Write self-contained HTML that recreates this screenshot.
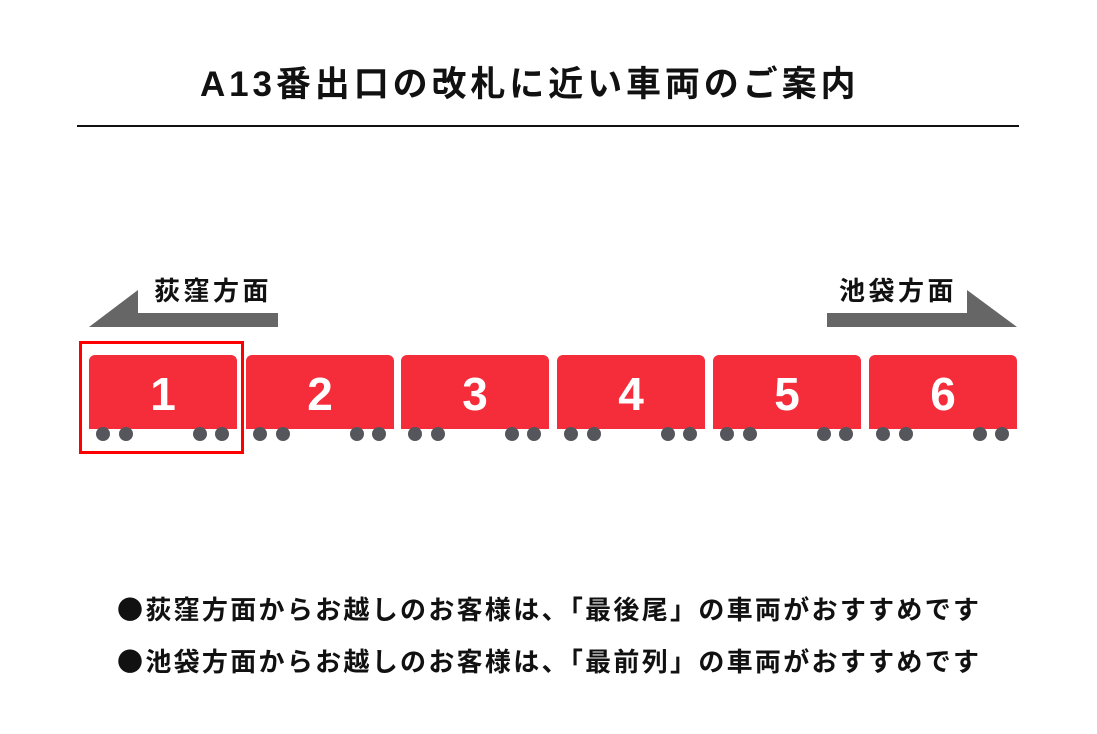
<!DOCTYPE html>
<html><head><meta charset="utf-8"><style>
body{margin:0;width:1097px;height:734px;background:#fff;position:relative;overflow:hidden;font-family:"Liberation Sans","Noto Sans CJK JP",sans-serif;color:#111}
.t{position:absolute;font-weight:bold;white-space:nowrap}
.b{font-family:"Noto Sans CJK JP",sans-serif}
</style></head><body>
<div class="t" style="left:200px;top:56px;font-size:35px;letter-spacing:3.9px">A13番出口の改札に近い車両のご案内</div>
<div style="position:absolute;left:77px;top:125px;width:942px;height:2px;background:#111"></div>
<div class="t" style="left:154px;top:271px;font-size:26px;letter-spacing:3.5px">荻窪方面</div>
<div class="t" style="left:839px;top:271px;font-size:26px;letter-spacing:3.5px">池袋方面</div>
<svg width="1097" height="734" style="position:absolute;left:0;top:0">
<polygon points="89,327 138,290 138,313 278,313 278,327" fill="#666"/>
<polygon points="827,313 967,313 967,290 1017,327 827,327" fill="#666"/>
<g fill="#f52c39">
<path d="M89,429V361a6,6 0 0 1 6-6H231a6,6 0 0 1 6,6V429Z"/>
<path d="M246,429V361a6,6 0 0 1 6-6H388a6,6 0 0 1 6,6V429Z"/>
<path d="M401,429V361a6,6 0 0 1 6-6H543a6,6 0 0 1 6,6V429Z"/>
<path d="M557,429V361a6,6 0 0 1 6-6H699a6,6 0 0 1 6,6V429Z"/>
<path d="M713,429V361a6,6 0 0 1 6-6H855a6,6 0 0 1 6,6V429Z"/>
<path d="M869,429V361a6,6 0 0 1 6-6H1011a6,6 0 0 1 6,6V429Z"/>
</g>
<g fill="#55555c">
<circle cx="103" cy="434" r="7"/><circle cx="126" cy="434" r="7"/><circle cx="200" cy="434" r="7"/><circle cx="222" cy="434" r="7"/>
<circle cx="260" cy="434" r="7"/><circle cx="283" cy="434" r="7"/><circle cx="357" cy="434" r="7"/><circle cx="379" cy="434" r="7"/>
<circle cx="415" cy="434" r="7"/><circle cx="438" cy="434" r="7"/><circle cx="512" cy="434" r="7"/><circle cx="534" cy="434" r="7"/>
<circle cx="571" cy="434" r="7"/><circle cx="594" cy="434" r="7"/><circle cx="668" cy="434" r="7"/><circle cx="690" cy="434" r="7"/>
<circle cx="727" cy="434" r="7"/><circle cx="750" cy="434" r="7"/><circle cx="824" cy="434" r="7"/><circle cx="846" cy="434" r="7"/>
<circle cx="883" cy="434" r="7"/><circle cx="906" cy="434" r="7"/><circle cx="980" cy="434" r="7"/><circle cx="1002" cy="434" r="7"/>
</g>
<g fill="#fff" font-family="Liberation Sans, sans-serif" font-weight="bold" font-size="46" text-anchor="middle">
<text x="163" y="410">1</text><text x="320" y="410">2</text><text x="475" y="410">3</text>
<text x="631" y="410">4</text><text x="787" y="410">5</text><text x="943" y="410">6</text>
</g>
<rect x="80.5" y="342.5" width="162" height="110" fill="none" stroke="#f00" stroke-width="3"/>
</svg>
<div class="t" style="left:117px;top:590px;font-size:26px;letter-spacing:2.3px"><span class="b">●</span>荻窪方面からお越しのお客様は、「最後尾」の車両がおすすめです</div>
<div class="t" style="left:117px;top:642px;font-size:26px;letter-spacing:2.3px"><span class="b">●</span>池袋方面からお越しのお客様は、「最前列」の車両がおすすめです</div>
</body></html>
